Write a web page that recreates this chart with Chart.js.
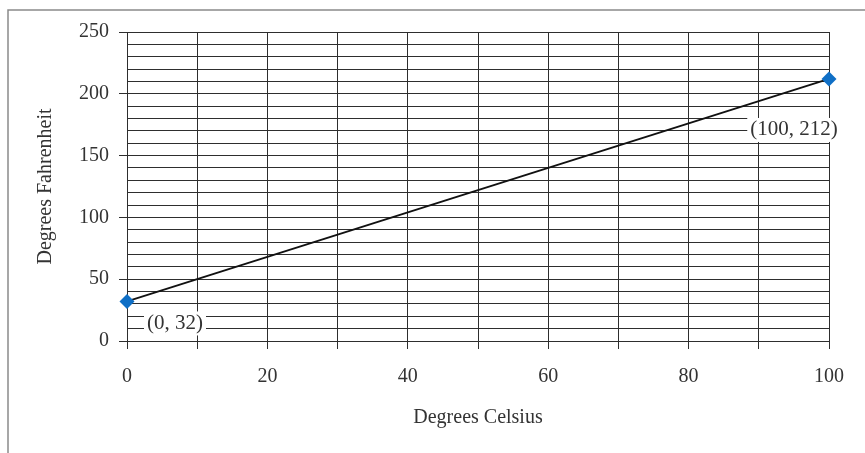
<!DOCTYPE html>
<html>
<head>
<meta charset="utf-8">
<script src="https://cdn.jsdelivr.net/npm/chart.js@4/dist/chart.umd.min.js"></script>
<style>
    html, body { margin: 0; padding: 0; background: #fff; }
    #wrap { position: relative; width: 865px; height: 453px; }
</style>
</head>
<body>
<div id="wrap"><canvas id="tempChart" width="865" height="453"></canvas></div>
<script>
// Celsius -> Fahrenheit data
const celsius = [0, 100];
const fahrenheit = [32, 212];
const pointLabels = ["(0, 32)", "(100, 212)"];

// tick values that carry a label
const xTickLabels = [0, 20, 40, 60, 80, 100];
const yTickLabels = [0, 50, 100, 150, 200, 250];

const serif = "'Liberation Serif', 'DejaVu Serif', serif";
const gridColor = "#2e2e2e";
const textColor = "#333";

// label offsets from their point (Excel style placement)
const labelOffsets = [[48, 22], [-35, 51]];

const framePlugin = {
    id: "frame",
    beforeDraw(chart) {
        const ctx = chart.ctx;
        ctx.save();
        ctx.strokeStyle = "#8a8a8a";
        ctx.lineWidth = 1.5;
        ctx.beginPath();
        ctx.moveTo(8, 460);
        ctx.lineTo(8, 10);
        ctx.lineTo(870, 10);
        ctx.stroke();
        ctx.restore();
    }
};

const pointLabelPlugin = {
    id: "pointLabels",
    afterDatasetsDraw(chart) {
        const ctx = chart.ctx;
        const meta = chart.getDatasetMeta(0);
        ctx.save();
        ctx.font = "21px " + serif;
        ctx.textAlign = "center";
        ctx.textBaseline = "middle";
        meta.data.forEach((pt, i) => {
            const x = pt.x + labelOffsets[i][0];
            const y = pt.y + labelOffsets[i][1];
            const w = ctx.measureText(pointLabels[i]).width + 6;
            ctx.fillStyle = "#fff";
            ctx.fillRect(x - w / 2, y - 12, w, 24);
            ctx.fillStyle = textColor;
            ctx.fillText(pointLabels[i], x, y);
        });
        ctx.restore();
    }
};

const points = celsius.map((c, i) => ({ x: c, y: fahrenheit[i] }));

new Chart(document.getElementById("tempChart"), {
    type: "scatter",
    data: {
        datasets: [{
            data: points,
            showLine: true,
            clip: false,
            borderColor: "#111",
            borderWidth: 1.8,
            pointStyle: "rectRot",
            pointRadius: 7.5,
            pointBackgroundColor: "#0f6fc6",
            pointBorderColor: "#0f6fc6",
            pointBorderWidth: 0
        }]
    },
    options: {
        responsive: false,
        animation: false,
        layout: { padding: { top: 32, right: 36, left: 0, bottom: 0 } },
        plugins: {
            legend: { display: false },
            tooltip: { enabled: false }
        },
        scales: {
            x: {
                type: "linear",
                min: 0,
                max: 100,
                afterFit: s => { s.height = 112; },
                ticks: {
                    stepSize: 10,
                    autoSkip: false,
                    maxRotation: 0,
                    padding: 16,
                    color: textColor,
                    font: { family: serif, size: 20 },
                    callback: v => xTickLabels.includes(v) ? v : ""
                },
                grid: { color: gridColor, lineWidth: 1, tickLength: 8, tickColor: gridColor },
                border: { color: gridColor },
                title: {
                    display: true,
                    text: "Degrees Celsius",
                    color: textColor,
                    font: { family: serif, size: 20 },
                    padding: { top: 0, bottom: 23 }
                }
            },
            y: {
                type: "linear",
                min: 0,
                max: 250,
                afterFit: s => { s.width = 127; },
                ticks: {
                    stepSize: 10,
                    autoSkip: false,
                    padding: 10,
                    color: textColor,
                    font: { family: serif, size: 20 },
                    callback: v => yTickLabels.includes(v) ? v : ""
                },
                grid: {
                    color: gridColor,
                    lineWidth: 1,
                    tickLength: 8,
                    tickColor: c => (c.tick && yTickLabels.includes(c.tick.value)) ? gridColor : "rgba(0,0,0,0)"
                },
                border: { color: gridColor },
                title: {
                    display: true,
                    text: "Degrees Fahrenheit",
                    color: textColor,
                    font: { family: serif, size: 20 },
                    padding: { top: 34, bottom: 0 }
                }
            }
        }
    },
    plugins: [framePlugin, pointLabelPlugin]
});
</script>
</body>
</html>
